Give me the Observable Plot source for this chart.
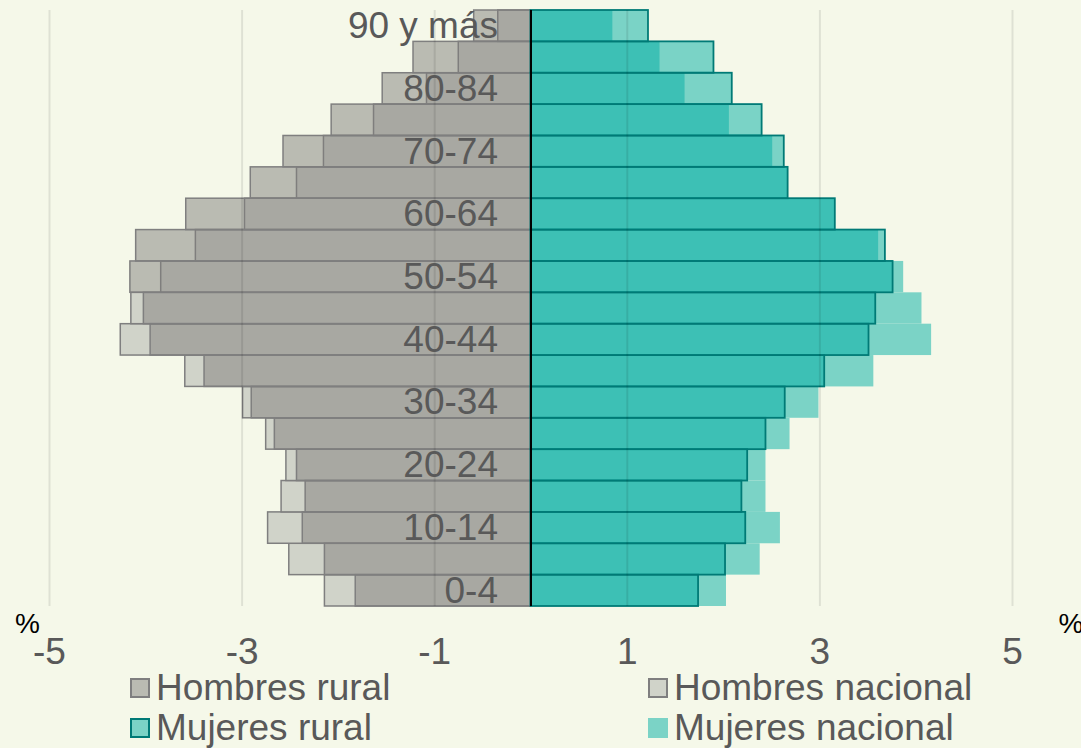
<!DOCTYPE html>
<html>
<head>
<meta charset="utf-8">
<script src="https://cdn.jsdelivr.net/npm/d3@7"></script>
<script src="https://cdn.jsdelivr.net/npm/@observablehq/plot@0.6"></script>
<style>
  html, body { margin: 0; padding: 0; background: #f5f8e9; }
  #wrap { position: relative; width: 1081px; height: 748px; overflow: hidden; background: #f5f8e9; font-family: "Liberation Sans", Arial, sans-serif; }
  .item { position: absolute; height: 34px; line-height: 34px; display: flex; align-items: center; font-size: 37px; color: #595959; white-space: nowrap; }
  .sw { width: 16px; height: 16px; border: 2px solid transparent; margin-right: 6px; box-sizing: content-box; }
</style>
</head>
<body>
<div id="wrap"></div>
<script>
const ages = ["0-4","5-9","10-14","15-19","20-24","25-29","30-34","35-39","40-44","45-49","50-54","55-59","60-64","65-69","70-74","75-79","80-84","85-89","90 y más"];
const ageLabels = ["0-4","10-14","20-24","30-34","40-44","50-54","60-64","70-74","80-84","90 y más"];
const hombresRural    = [1.82, 2.14, 2.37, 2.34, 2.43, 2.66, 2.90, 3.39, 3.95, 4.02, 4.16, 4.10, 3.58, 2.91, 2.57, 2.07, 1.54, 1.22, 0.59];
const hombresNacional = [2.14, 2.51, 2.73, 2.59, 2.54, 2.75, 2.99, 3.59, 4.26, 4.15, 3.84, 3.48, 2.97, 2.43, 2.15, 1.63, 1.08, 0.75, 0.34];
const mujeresRural    = [1.74, 2.02, 2.23, 2.19, 2.25, 2.44, 2.64, 3.05, 3.51, 3.58, 3.76, 3.68, 3.16, 2.67, 2.63, 2.40, 2.09, 1.90, 1.22];
const mujeresNacional = [2.03, 2.38, 2.59, 2.44, 2.44, 2.69, 2.99, 3.56, 4.16, 4.06, 3.87, 3.61, 3.16, 2.67, 2.51, 2.06, 1.60, 1.34, 0.85];
const tickValues = [-5, -3, -1, 1, 3, 5];
const tickLabels = ["-5", "-3", "-1", "1", "3", "5"];
const legendLabels = ["Hombres rural", "Hombres nacional", "Mujeres rural", "Mujeres nacional"];

const rows = ages.map((age, i) => ({
  age, hr: hombresRural[i], hn: hombresNacional[i], mr: mujeresRural[i], mn: mujeresNacional[i]
}));

const plot = Plot.plot({
  width: 1081,
  height: 672,
  marginTop: 10,
  marginBottom: 66,
  marginLeft: 49,
  marginRight: 69,
  style: { background: "transparent", fontFamily: "'Liberation Sans', Arial, sans-serif", color: "#595959", overflow: "visible" },
  x: { domain: [-5, 5] },
  y: { type: "band", domain: [...ages].reverse(), padding: 0, round: false, axis: null },
  marks: [
    Plot.barX(rows, { y: "age", x1: () => 0, x2: d => -d.hn, fill: "#d0d3c9", stroke: "#7f7f7f", strokeWidth: 1.5 }),
    Plot.barX(rows, { y: "age", x1: () => 0, x2: d => d.mn, fill: "#7bd3c6" }),
    Plot.barX(rows, { y: "age", x1: () => 0, x2: d => -d.hr, fill: "#7f7e7b", fillOpacity: 0.5, stroke: "#7f7f7f", strokeWidth: 1.5 }),
    Plot.barX(rows, { y: "age", x1: () => 0, x2: d => d.mr, fill: "#00ada3", fillOpacity: 0.5, stroke: "#007a76", strokeWidth: 1.8 }),
    Plot.gridX(tickValues, { stroke: "#000", strokeOpacity: 0.09, strokeWidth: 2 }),
    Plot.ruleX([0], { stroke: "#000", strokeWidth: 2 }),
    Plot.text(ageLabels, { x: () => 0, y: d => d, dx: -33, textAnchor: "end", fontSize: 37, fill: "#595959" }),
    Plot.axisX(tickValues, { tickSize: 0, tickPadding: 31, fontSize: 37, tickFormat: d => tickLabels[tickValues.indexOf(d)], label: null }),
    Plot.text(["%"], { frameAnchor: "bottom-left", dx: -22, dy: 26, fontSize: 28, fill: "#000", textAnchor: "middle" }),
    Plot.text(["%"], { frameAnchor: "bottom-right", dx: 46, dy: 26, fontSize: 28, fill: "#000", textAnchor: "start" })
  ]
});

const wrap = document.getElementById("wrap");
wrap.appendChild(plot);

const legendStyles = [
  { fill: "#babbb2", stroke: "#7f7f7f" },
  { fill: "#d0d3c9", stroke: "#7f7f7f" },
  { fill: "#7bd3c6", stroke: "#007a76" },
  { fill: "#7bd3c6", stroke: "#7bd3c6" }
];
const legendPos = [[130, 671], [648, 671], [130, 710.5], [648, 710.5]];
legendLabels.forEach((lab, i) => {
  const it = document.createElement("div");
  it.className = "item";
  it.style.left = legendPos[i][0] + "px";
  it.style.top = legendPos[i][1] + "px";
  const sw = document.createElement("span");
  sw.className = "sw";
  sw.style.background = legendStyles[i].fill;
  sw.style.borderColor = legendStyles[i].stroke;
  it.appendChild(sw);
  const t = document.createElement("span");
  t.textContent = lab;
  it.appendChild(t);
  wrap.appendChild(it);
});
</script>
</body>
</html>
